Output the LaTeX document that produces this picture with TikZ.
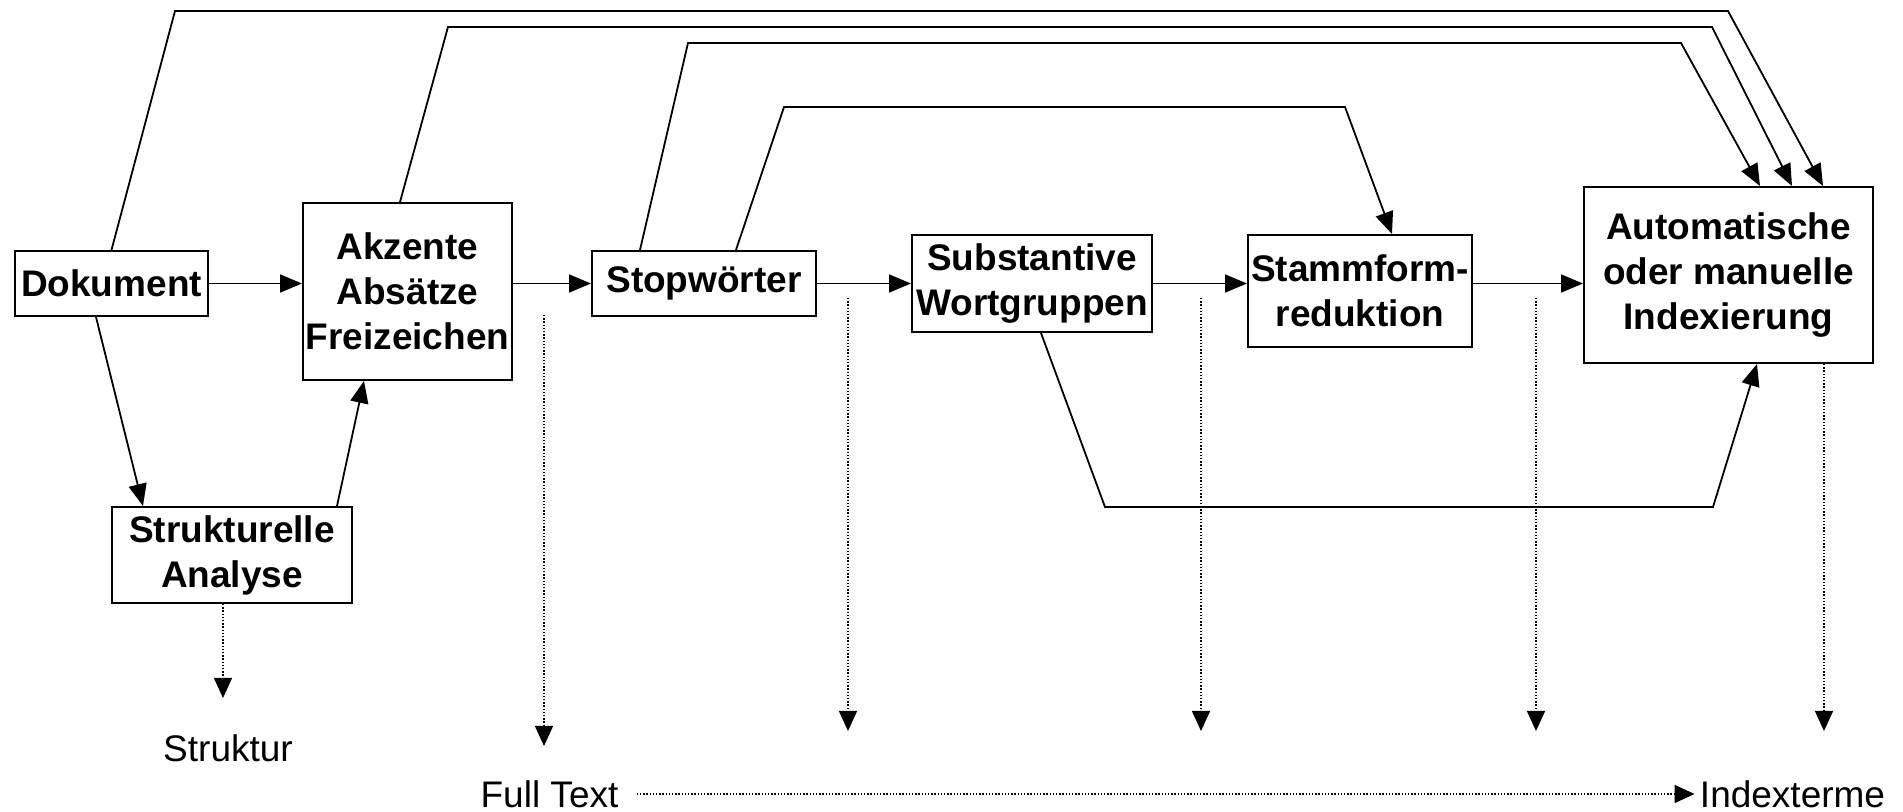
\documentclass[tikz,border=0pt]{standalone}
\usepackage{fontspec}
\setmainfont{Liberation Sans}
\usetikzlibrary{arrows.meta,calc}

\newcommand{\diagfont}{\fontsize{18.5}{22.5}\selectfont}

\tikzset{
  box/.style={draw,line width=1pt,align=center,inner sep=0pt,font=\diagfont\bfseries},
  lbl/.style={inner sep=0pt,font=\diagfont},
  arr/.style={-{Triangle[length=11pt,width=9pt]},line width=0.9pt},
  dotarr/.style={-{Triangle[length=10pt,width=9pt]},line width=0.7pt,dash pattern=on 0.7pt off 0.9pt},
}

\begin{document}
\begin{tikzpicture}[x=0.5pt,y=-0.5pt]
  \useasboundingbox (0,0) rectangle (1903,812);
  % boxes
  \node[box,minimum width=96.5pt,minimum height=32.5pt] (dok) at (111.5,283.5) {Dokument};
  \node[box,minimum width=104.5pt,minimum height=88.5pt] (akz) at (407.5,291.5) {Akzente\\Absätze\\Freizeichen};
  \node[box,minimum width=120pt,minimum height=48pt] (struk) at (232,555) {Strukturelle\\Analyse};
  \node[box,minimum width=112pt,minimum height=32.5pt] (stop) at (704,283.5) {Stopwörter};
  \node[box,minimum width=120pt,minimum height=48.5pt] (subst) at (1032,283.5) {Substantive\\Wortgruppen};
  \node[box,minimum width=112pt,minimum height=56pt] (stamm) at (1360,291) {Stammform-\\reduktion};
  \node[box,minimum width=144.5pt,minimum height=88pt] (auto) at (1728.5,275) {Automatische\\oder manuelle\\Indexierung};
  % outputs
  \node[lbl] (struktur) at (228,748) {Struktur};
  \node[lbl] (ft) at (549.5,794) {Full Text};
  \node[lbl] (idx) at (1792.5,794) {Indexterme};
  % main line
  \draw[arr] (dok.east) -- (dok.east -| akz.west);
  \draw[arr] (akz.east |- stop.west) -- (stop.west);
  \draw[arr] (stop.east) -- (subst.west);
  \draw[arr] (subst.east) -- (subst.east -| stamm.west);
  \draw[arr] (stamm.east |- subst.east) -- (subst.east -| auto.west);
  \draw[arr] ($(dok.south)+(-15.5,0)$) -- ($(struk.north)+(-89,0)$);
  \draw[arr] ($(struk.north)+(105,0)$) -- ($(akz.south)+(-43.5,0)$);
  % bypasses on top
  \draw[arr] (dok.north) -- (175,11) -- (1728,11) -- ($(auto.north)+(94.5,0)$);
  \draw[arr] ($(akz.north)+(-7.5,0)$) -- (448,27) -- (1712,27) -- ($(auto.north)+(63.5,0)$);
  \draw[arr] ($(stop.north)+(-64,0)$) -- (688,43) -- (1681,43) -- ($(auto.north)+(31.5,0)$);
  \draw[arr] ($(stop.north)+(32,0)$) -- (784,107) -- (1345,107) -- ($(stamm.north)+(32,0)$);
  % bypass below
  \draw[arr] ($(subst.south)+(9,0)$) -- (1105,507) -- (1713,507) -- ($(auto.south)+(28.5,0)$);
  % dotted outputs
  \coordinate (d1) at (544,315);
  \coordinate (d2) at (848,298);
  \coordinate (d3) at (1201,298);
  \coordinate (d4) at (1536,298);
  \coordinate (e1) at (544,746);
  \coordinate (e2) at (848,731);
  \coordinate (e3) at (1201,731);
  \coordinate (e4) at (1536,731);
  \coordinate (e5) at (1824,731);
  \coordinate (e0) at (223,698);
  \draw[dotarr] ($(struk.south)+(-9,0)$) -- (e0);
  \foreach \i in {1,...,4}{\draw[dotarr] (d\i) -- (e\i);}
  \draw[dotarr] (auto.south -| e5) -- (e5);
  \draw[dotarr] ([xshift=9pt]ft.east) -- ([xshift=-2.5pt]idx.west);
\end{tikzpicture}
\end{document}
